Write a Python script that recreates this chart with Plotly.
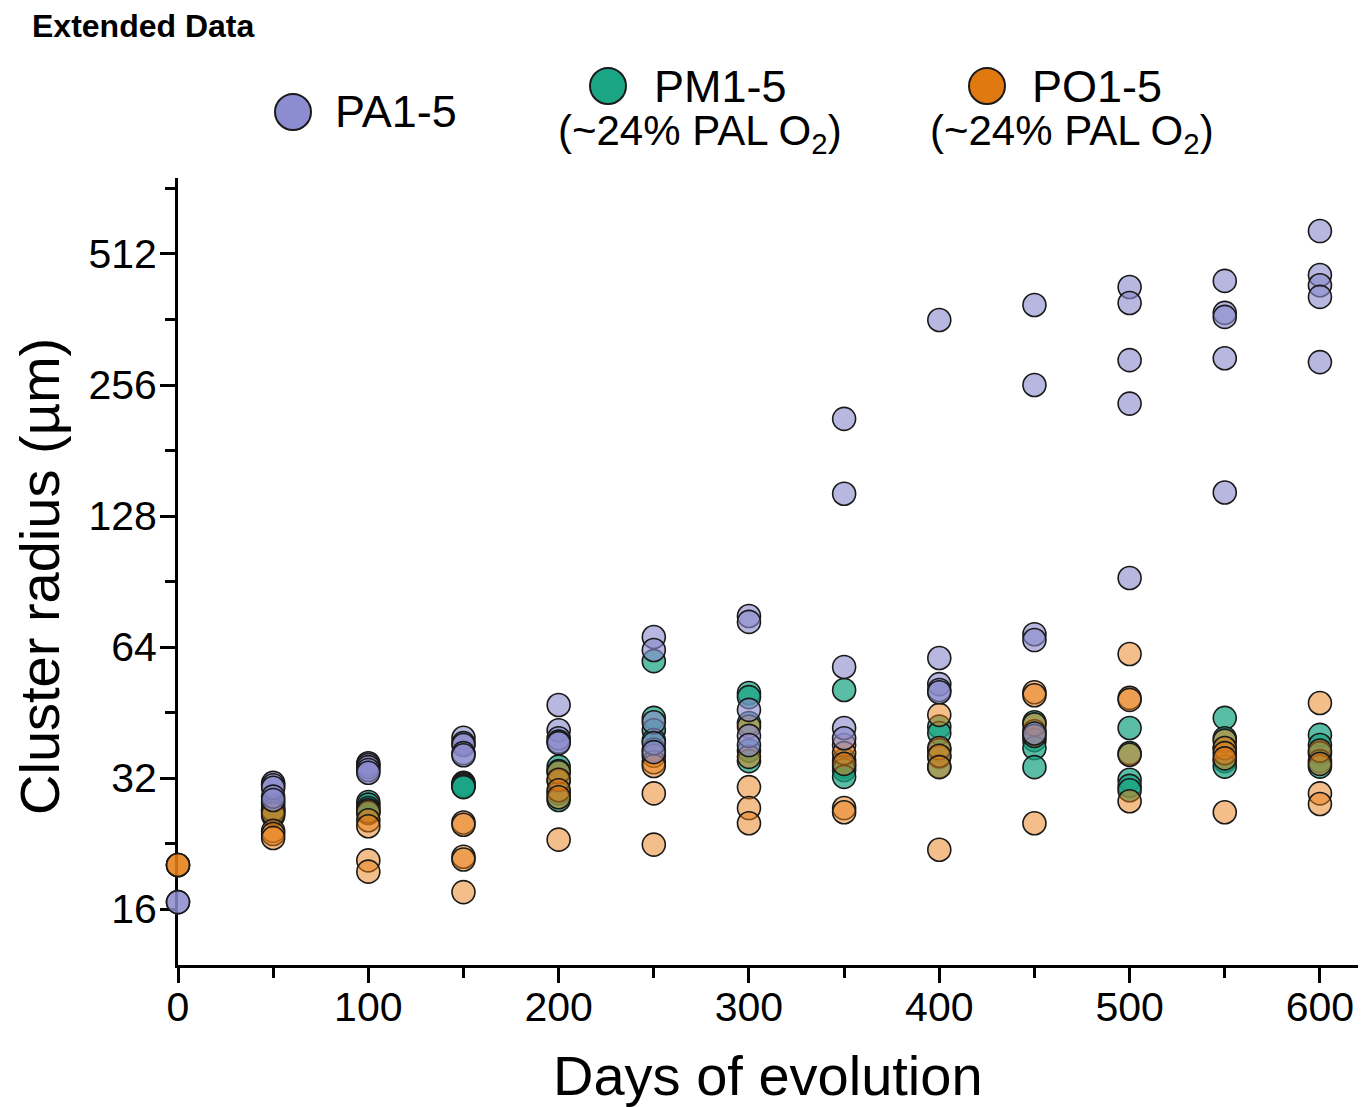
import plotly.graph_objects as go
import numpy as np

# ---------------- data ----------------
days = [0, 50, 100, 150, 200, 250, 300, 350, 400, 450, 500, 550, 600]

pa_radius = [
    [16.6, 16.6],
    [31.2, 30.8, 30.4, 29.0, 28.5],
    [34.6, 34.3, 33.9, 33.4, 32.9],
    [39.6, 38.5, 38.1, 36.5, 36.1],
    [47.1, 41.2, 39.5, 38.8, 38.5],
    [67.5, 63.0, 43.0, 38.5, 36.7],
    [75.4, 73.1, 45.9, 40.0, 38.1],
    [214, 144, 57.6, 41.7, 39.5],
    [361, 60.4, 52.6, 51.0, 50.4],
    [391, 256, 68.5, 66.4, 40.5],
    [430, 395, 292, 232, 92.2],
    [444, 375, 367, 295, 145],
    [578, 458, 434, 408, 289],
]

pm_radius = [
    [],
    [28.0, 27.5, 27.0, 26.7, 26.2],
    [28.2, 27.8, 27.3, 27.0, 26.6],
    [31.2, 31.0, 30.8, 30.6, 30.5],
    [34.0, 33.2, 31.5, 29.5, 28.5],
    [59.4, 44.0, 41.2, 39.1, 37.2],
    [50.2, 49.1, 42.8, 37.0, 35.0],
    [51.0, 35.2, 34.0, 33.4, 32.2],
    [42.0, 40.6, 37.1, 35.8, 34.0],
    [43.0, 41.0, 39.1, 37.5, 33.9],
    [41.7, 36.5, 31.7, 30.7, 30.0],
    [44.0, 39.5, 37.5, 35.0, 34.0],
    [40.2, 38.1, 36.5, 35.0, 34.0],
]

po_radius = [
    [20.2, 20.2, 20.2],
    [27.0, 26.5, 24.2, 23.8, 23.3],
    [26.8, 25.6, 24.8, 20.7, 19.5],
    [25.3, 25.0, 21.1, 20.8, 17.5],
    [33.0, 31.7, 30.0, 28.9, 23.1],
    [36.0, 34.8, 34.1, 29.5, 22.5],
    [42.0, 35.8, 30.5, 27.3, 25.2],
    [38.1, 36.5, 34.5, 27.3, 26.7],
    [44.7, 37.5, 36.0, 33.9, 21.9],
    [50.4, 49.6, 42.5, 40.0, 25.2],
    [61.7, 48.9, 48.4, 36.2, 28.3],
    [39.0, 37.5, 36.5, 35.5, 26.7],
    [47.6, 37.0, 34.5, 29.5, 27.9],
]

y_tickvals = [16, 32, 64, 128, 256, 512]
y_ticktext = ["16", "32", "64", "128", "256", "512"]
y_minor = [22.63, 45.25, 90.51, 181.02, 362.04, 724.08]
x_tickvals = [0, 100, 200, 300, 400, 500, 600]
x_minor = [50, 150, 250, 350, 450, 550]

series_names = ["PA1-5", "PM1-5", "PO1-5"]
series_fill = ["rgba(138,138,205,0.62)", "rgba(26,165,132,0.72)", "rgba(232,125,22,0.50)"]
legend_fill = ["#8c8cd0", "#1aa584", "#e07a10"]

# ---------------- figure ----------------
OFF = 8  # page body margin
W, H = 1371 - OFF, 1107 - OFF
L, T = 178 - OFF, 178 - OFF
R = W - (1358 - OFF)
B = H - (965 - OFF)
pw, ph = W - L - R, H - T - B


def px2paper(px, py):
    """reference-image pixel -> paper coordinates"""
    fx, fy = px - OFF, py - OFF
    return (fx - L) / pw, (H - B - fy) / ph


def flatten(vals):
    xs, ys = [], []
    for d, v in zip(days, vals):
        xs += [d] * len(v)
        ys += v
    return xs, ys


fig = go.Figure()
order = [(1, pm_radius), (2, po_radius), (0, pa_radius)]
for idx, vals in order:
    xs, ys = flatten(vals)
    fig.add_trace(go.Scatter(
        x=xs, y=ys, mode="markers", name=series_names[idx],
        cliponaxis=False, showlegend=False,
        marker=dict(size=23, color=series_fill[idx],
                    line=dict(color="#1a1a1a", width=1.6)),
    ))

font_family = "Arial, Liberation Sans, Helvetica, sans-serif"

fig.update_layout(
    width=W, height=H,
    margin=dict(l=L, r=R, t=T, b=B),
    paper_bgcolor="white", plot_bgcolor="white",
    font=dict(family=font_family, color="black"),
    xaxis=dict(
        range=[0, 620], showgrid=False, zeroline=False,
        showline=True, linecolor="black", linewidth=3, layer="below traces",
        tickmode="array", tickvals=x_tickvals, ticks="outside",
        ticklen=15, tickwidth=3, tickcolor="black",
        tickfont=dict(size=41), ticklabelstandoff=-11,
        minor=dict(tickmode="array", tickvals=x_minor, ticks="outside",
                   ticklen=10, tickwidth=3, tickcolor="black"),
    ),
    yaxis=dict(
        type="log", range=[np.log10(2) * 3.573, np.log10(2) * 9.58],
        showgrid=False, zeroline=False,
        showline=True, linecolor="black", linewidth=3, layer="below traces",
        tickmode="array", tickvals=y_tickvals, ticktext=y_ticktext,
        ticks="outside", ticklen=15, tickwidth=3, tickcolor="black",
        tickfont=dict(size=41), ticklabelstandoff=-5,
        minor=dict(tickmode="array", tickvals=y_minor, ticks="outside",
                   ticklen=10, tickwidth=3, tickcolor="black"),
    ),
)

annotations = []
shapes = []

# axis titles
ax, ay = px2paper(768, 1075)
annotations.append(dict(text="Days of evolution", x=ax, y=ay, xref="paper", yref="paper",
                        showarrow=False, font=dict(size=56), xanchor="center", yanchor="middle"))
ax, ay = px2paper(39, 577)
annotations.append(dict(text="Cluster radius (µm)", x=ax, y=ay, xref="paper", yref="paper",
                        showarrow=False, font=dict(size=56), textangle=-90,
                        xanchor="center", yanchor="middle"))
# header
ax, ay = px2paper(30, 26)
annotations.append(dict(text="<b>Extended Data</b>", x=ax, y=ay, xref="paper", yref="paper",
                        showarrow=False, font=dict(size=32), xanchor="left", yanchor="middle"))

# custom legend
legend_items = [
    (0, (293, 112), (333, 112), None),
    (1, (608, 86), (652, 86), (700, 133)),
    (2, (987, 86), (1030, 86), (1072, 133)),
]
for idx, (cx, cy), (tx, ty), sub in legend_items:
    mx, my = px2paper(cx, cy)
    shapes.append(dict(type="circle", xref="paper", yref="paper",
                       xsizemode="pixel", ysizemode="pixel",
                       xanchor=mx, yanchor=my, x0=-18, x1=18, y0=-18, y1=18,
                       fillcolor=legend_fill[idx], line=dict(color="#1a1a1a", width=2)))
    lx, ly = px2paper(tx, ty)
    annotations.append(dict(text=series_names[idx], x=lx, y=ly, xref="paper", yref="paper",
                            showarrow=False, font=dict(size=45), xanchor="left", yanchor="middle"))
    if sub:
        sx, sy = px2paper(*sub)
        annotations.append(dict(text="(~24% PAL O<sub>2</sub>)", x=sx, y=sy,
                                xref="paper", yref="paper", showarrow=False,
                                font=dict(size=42), xanchor="center", yanchor="middle"))

fig.update_layout(annotations=annotations, shapes=shapes)
fig.write_html("out.html")
